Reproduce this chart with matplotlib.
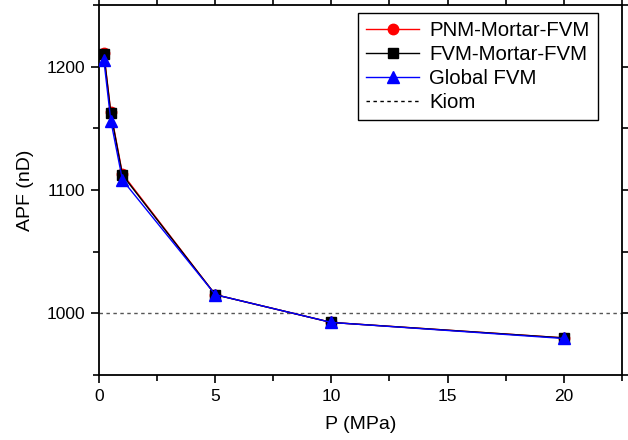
import matplotlib
matplotlib.use("Agg")
import matplotlib.pyplot as plt
from matplotlib.ticker import MultipleLocator

plt.rcParams['font.family'] = ['Liberation Sans', 'DejaVu Sans']

pressure = [0.2, 0.5, 1, 5, 10, 20]
pnm_mortar_fvm = [1211, 1163, 1113, 1015, 992.5, 980]
fvm_mortar_fvm = [1210, 1162, 1112, 1015, 992.5, 980]
global_fvm = [1205, 1156, 1108, 1015, 992.5, 979.5]
kiom_value = 1000

fig = plt.figure(figsize=(6.28, 4.4), dpi=100)
ax = fig.add_axes([0.158, 0.148, 0.832, 0.841])

ax.plot(pressure, pnm_mortar_fvm, color='red', marker='o', lw=1.0, ms=7.5,
        label='PNM-Mortar-FVM', zorder=3)
ax.plot(pressure, fvm_mortar_fvm, color='black', marker='s', lw=1.0, ms=7.5,
        label='FVM-Mortar-FVM', zorder=4)
ax.plot(pressure, global_fvm, color='blue', marker='^', lw=1.0, ms=8.5,
        label='Global FVM', zorder=5)
ax.axhline(kiom_value, color='#555555', ls=(0, (2.5, 2.5)), lw=1.0,
           label='Kiom', zorder=2)

ax.set_xlim(0, 22.5)
ax.set_ylim(950, 1250)
ax.xaxis.set_major_locator(MultipleLocator(5))
ax.xaxis.set_minor_locator(MultipleLocator(2.5))
ax.yaxis.set_major_locator(MultipleLocator(100))
ax.yaxis.set_minor_locator(MultipleLocator(50))
ax.tick_params(which='both', direction='out', top=True, right=True,
               labeltop=False, labelright=False, width=1.2)
ax.tick_params(which='major', length=6, labelsize=12.5, pad=4)
ax.tick_params(which='minor', length=4)
for s in ax.spines.values():
    s.set_linewidth(1.3)

ax.set_xlabel('P (MPa)', fontsize=14, labelpad=9)
ax.set_ylabel('APF (nD)', fontsize=14, labelpad=9)

handles, labels = ax.get_legend_handles_labels()
leg = ax.legend(handles, labels, loc='upper right', bbox_to_anchor=(0.962, 0.99),
                fontsize=14.7, frameon=True, fancybox=False, edgecolor='black',
                framealpha=1, handlelength=2.6, borderpad=0.4, labelspacing=0.25,
                handletextpad=0.5, borderaxespad=0.2)
leg.get_frame().set_linewidth(1.0)
leg.get_lines()[3].set_color('black')

fig.savefig('out.png', dpi=100)
